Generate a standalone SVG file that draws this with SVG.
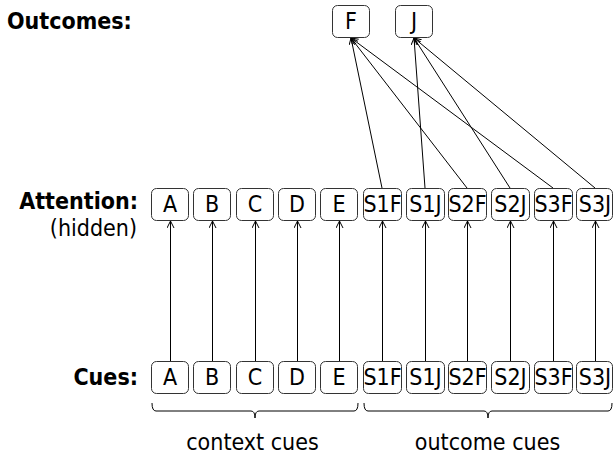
<svg xmlns="http://www.w3.org/2000/svg" width="613" height="459" viewBox="0 0 613 459">
<defs>
<style>
text{font-family:"DejaVu Sans Condensed","DejaVu Sans",sans-serif;font-stretch:condensed;font-size:23px;fill:#000}
.lbl{font-weight:bold}
.box rect{fill:#fff;stroke:#333;stroke-width:1}
.box text{text-anchor:middle}
.edge{stroke:#000;stroke-width:1;fill:none;marker-end:url(#arr)}
.brace{stroke:#000;stroke-width:1;fill:none}
</style>
<marker id="arr" markerUnits="userSpaceOnUse" markerWidth="8" markerHeight="8" refX="7" refY="3.5" orient="auto">
<path d="M0,0 L7,3.5 L0,7" fill="none" stroke="#000" stroke-width="1"/>
</marker>
</defs>
<rect width="613" height="459" fill="#fff"/>

<g id="labels">
<text class="lbl" x="7" y="29">Outcomes:</text>
<text class="lbl" x="138" y="209" text-anchor="end">Attention:</text>
<text x="137" y="236" text-anchor="end" font-size="22">(hidden)</text>
<text class="lbl" x="138" y="385" text-anchor="end">Cues:</text>
<text x="252.5" y="450" text-anchor="middle">context cues</text>
<text x="487.5" y="450" text-anchor="middle">outcome cues</text>
</g>

<g id="connectors">
<line class="edge" x1="170.5" y1="361" x2="170.5" y2="221"/>
<line class="edge" x1="212.5" y1="361" x2="212.5" y2="221"/>
<line class="edge" x1="255.5" y1="361" x2="255.5" y2="221"/>
<line class="edge" x1="297.5" y1="361" x2="297.5" y2="221"/>
<line class="edge" x1="339.5" y1="361" x2="339.5" y2="221"/>
<line class="edge" x1="382.5" y1="361" x2="382.5" y2="221"/>
<line class="edge" x1="425.5" y1="361" x2="425.5" y2="221"/>
<line class="edge" x1="467.5" y1="361" x2="467.5" y2="221"/>
<line class="edge" x1="510.5" y1="361" x2="510.5" y2="221"/>
<line class="edge" x1="553.5" y1="361" x2="553.5" y2="221"/>
<line class="edge" x1="595.5" y1="361" x2="595.5" y2="221"/>
<line class="edge" x1="382" y1="188" x2="351" y2="38"/>
<line class="edge" x1="467" y1="188" x2="351" y2="38"/>
<line class="edge" x1="553" y1="188" x2="351" y2="38"/>
<line class="edge" x1="425" y1="188" x2="414" y2="38"/>
<line class="edge" x1="510" y1="188" x2="414" y2="38"/>
<line class="edge" x1="595" y1="188" x2="414" y2="38"/>
<path class="brace" d="M152,403 Q152,411 156,411 L251,411 Q255,411 255,418 Q255,411 259,411 L354,411 Q358,411 358,403"/>
<path class="brace" d="M364,403 Q364,411 368,411 L484,411 Q488,411 488,418 Q488,411 492,411 L608,411 Q612,411 612,403"/>
</g>

<g id="out-F" class="box"><rect x="332.5" y="5.5" width="37" height="32" rx="5"/><text x="351" y="29">F</text></g>
<g id="out-J" class="box"><rect x="395.5" y="5.5" width="37" height="32" rx="5"/><text x="414" y="29">J</text></g>

<g id="att-A" class="box"><rect x="151.5" y="188.5" width="37" height="32" rx="5"/><text x="170" y="212">A</text></g>
<g id="att-B" class="box"><rect x="193.5" y="188.5" width="37" height="32" rx="5"/><text x="212" y="212">B</text></g>
<g id="att-C" class="box"><rect x="236.5" y="188.5" width="37" height="32" rx="5"/><text x="255" y="212">C</text></g>
<g id="att-D" class="box"><rect x="278.5" y="188.5" width="37" height="32" rx="5"/><text x="297" y="212">D</text></g>
<g id="att-E" class="box"><rect x="320.5" y="188.5" width="37" height="32" rx="5"/><text x="339" y="212">E</text></g>
<g id="att-S1F" class="box"><rect x="363.5" y="188.5" width="38" height="32" rx="5"/><text x="382.5" y="212">S1F</text></g>
<g id="att-S1J" class="box"><rect x="406.5" y="188.5" width="38" height="32" rx="5"/><text x="425.5" y="212">S1J</text></g>
<g id="att-S2F" class="box"><rect x="448.5" y="188.5" width="38" height="32" rx="5"/><text x="467.5" y="212">S2F</text></g>
<g id="att-S2J" class="box"><rect x="491.5" y="188.5" width="38" height="32" rx="5"/><text x="510.5" y="212">S2J</text></g>
<g id="att-S3F" class="box"><rect x="534.5" y="188.5" width="38" height="32" rx="5"/><text x="553.5" y="212">S3F</text></g>
<g id="att-S3J" class="box"><rect x="576.5" y="188.5" width="36" height="32" rx="5"/><text x="595" y="212">S3J</text></g>

<g id="cue-A" class="box"><rect x="151.5" y="361.5" width="37" height="32" rx="5"/><text x="170" y="385">A</text></g>
<g id="cue-B" class="box"><rect x="193.5" y="361.5" width="37" height="32" rx="5"/><text x="212" y="385">B</text></g>
<g id="cue-C" class="box"><rect x="236.5" y="361.5" width="37" height="32" rx="5"/><text x="255" y="385">C</text></g>
<g id="cue-D" class="box"><rect x="278.5" y="361.5" width="37" height="32" rx="5"/><text x="297" y="385">D</text></g>
<g id="cue-E" class="box"><rect x="320.5" y="361.5" width="37" height="32" rx="5"/><text x="339" y="385">E</text></g>
<g id="cue-S1F" class="box"><rect x="363.5" y="361.5" width="38" height="32" rx="5"/><text x="382.5" y="385">S1F</text></g>
<g id="cue-S1J" class="box"><rect x="406.5" y="361.5" width="38" height="32" rx="5"/><text x="425.5" y="385">S1J</text></g>
<g id="cue-S2F" class="box"><rect x="448.5" y="361.5" width="38" height="32" rx="5"/><text x="467.5" y="385">S2F</text></g>
<g id="cue-S2J" class="box"><rect x="491.5" y="361.5" width="38" height="32" rx="5"/><text x="510.5" y="385">S2J</text></g>
<g id="cue-S3F" class="box"><rect x="534.5" y="361.5" width="38" height="32" rx="5"/><text x="553.5" y="385">S3F</text></g>
<g id="cue-S3J" class="box"><rect x="576.5" y="361.5" width="36" height="32" rx="5"/><text x="595" y="385">S3J</text></g>
</svg>
